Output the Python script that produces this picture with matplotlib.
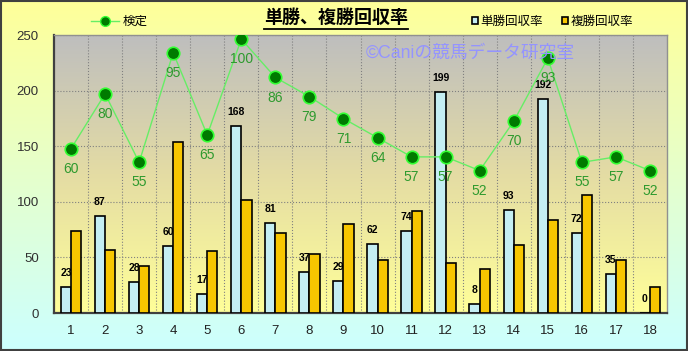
import matplotlib

matplotlib.use("Agg")

import matplotlib.pyplot as plt
import numpy as np
from matplotlib.colors import LinearSegmentedColormap
from matplotlib.lines import Line2D
from matplotlib.patches import Patch

plt.rcParams["font.family"] = ["Liberation Sans", "Noto Sans CJK JP", "DejaVu Sans"]

horses = list(range(1, 19))
tansho = [23, 87, 28, 60, 17, 168, 81, 37, 29, 62, 74, 199, 8, 93, 192, 72, 35, 0]
fukusho = [74, 57, 42, 154, 56, 102, 72, 53, 80, 48, 92, 45, 40, 61, 84, 106, 48, 23]
kentei = [60, 80, 55, 95, 65, 100, 86, 79, 71, 64, 57, 57, 52, 70, 93, 55, 57, 52]
y_ticks = [0, 50, 100, 150, 200, 250]

W, H = 688, 351
fig = plt.figure(figsize=(W / 100, H / 100), dpi=100)

# outer background gradient
bg = fig.add_axes([0, 0, 1, 1], zorder=-10)
bg_cmap = LinearSegmentedColormap.from_list("bg", ["#FFFF99", "#CCFFFF"])
bg.imshow(np.linspace(0, 1, 256).reshape(-1, 1), aspect="auto", cmap=bg_cmap,
          extent=[0, 1, 0, 1], origin="upper")
bg.set_xlim(0, 1)
bg.set_ylim(0, 1)
bg.axis("off")
fig.add_artist(plt.Rectangle((0.001, 0.002), 0.997, 0.995, transform=fig.transFigure,
                             fill=False, edgecolor="#404040", linewidth=1.5))

left, right, top, bottom = 54, 667, 35, 313
ax = fig.add_axes([left / W, 1 - bottom / H, (right - left) / W, (bottom - top) / H])

x = np.array(horses, dtype=float)
plot_cmap = LinearSegmentedColormap.from_list("pa", ["#BEBEBE", "#E4DCA4", "#FFFF99"])
ax.imshow(np.linspace(0, 1, 256).reshape(-1, 1), aspect="auto", cmap=plot_cmap,
          extent=[0.5, 18.5, 0, 250], origin="upper", zorder=0)

bw = 0.3
ax.bar(x - bw / 2, tansho, bw, color="#C4EEF3", edgecolor="black", linewidth=1.2, zorder=3)
ax.bar(x + bw / 2, fukusho, bw, color="#F7C600", edgecolor="black", linewidth=1.2, zorder=3)
for xi, v in zip(x, tansho):
    ax.annotate(str(v), (xi - bw / 2, v), xytext=(0, 6.5), textcoords="offset points",
                ha="center", va="bottom", fontsize=7.5, fontweight="bold", color="black", zorder=5)

ax.set_xlim(0.5, 18.5)
ax.set_ylim(0, 250)
ax.set_xticks(x)
ax.set_xticklabels([str(h) for h in horses], fontsize=9.5, color="#202020")
ax.set_xticks(np.arange(1.5, 18.5, 1.0), minor=True)
ax.set_yticks(y_ticks)
ax.set_yticklabels([str(t) for t in y_ticks], fontsize=9.5, color="#303030")
ax.tick_params(axis="both", which="both", length=0)
ax.tick_params(axis="x", pad=9)
ax.tick_params(axis="y", pad=11)
ax.grid(axis="y", which="major", linestyle=":", color="#808080", linewidth=0.8, zorder=1)
ax.grid(axis="x", which="minor", linestyle=":", color="#808080", linewidth=0.8, zorder=1)
ax.set_axisbelow(True)
for s in ["left", "bottom"]:
    ax.spines[s].set_color("#404040")
    ax.spines[s].set_linewidth(1.6)
for s in ["top", "right"]:
    ax.spines[s].set_color("#909090")
    ax.spines[s].set_linewidth(1.0)

ax2 = ax.twinx()
ax2.set_ylim(0, 101.5)
ax2.set_yticks([])
for s in ax2.spines.values():
    s.set_visible(False)
ax2.plot(x, kentei, color="#66EE66", linewidth=1.0, marker="o", markersize=9,
         markerfacecolor="#007A00", markeredgecolor="#33FF33", markeredgewidth=1.2, zorder=6)
for xi, v in zip(x, kentei):
    ax2.annotate(str(v), (xi, v), xytext=(0, -14.5), textcoords="offset points",
                 ha="center", va="center", fontsize=10, color="#2E9A2E", zorder=7)

# title with underline
title = fig.text(336 / W, 1 - 18 / H, "単勝、複勝回収率", ha="center", va="center",
                 fontsize=13, fontweight="bold", color="black")
fig.canvas.draw()
bb = title.get_window_extent()
fig.add_artist(Line2D([bb.x0 / W, bb.x1 / W], [1 - 28.5 / H, 1 - 28.5 / H],
                      transform=fig.transFigure, color="black", linewidth=1.3))

# watermark
fig.text(470 / W, 1 - 53 / H, "©Caniの競馬データ研究室", ha="center", va="center",
         fontsize=12.8, color="#9494FF", zorder=20)

# legends
h_line = Line2D([], [], color="#66EE66", linewidth=1.0, marker="o", markersize=7,
                markerfacecolor="#007A00", markeredgecolor="#33FF33")
leg1 = fig.legend([h_line], ["検定"], loc="center left", bbox_to_anchor=(91 / W, 1 - 22 / H),
                  frameon=False, fontsize=9, handlelength=2.2, handletextpad=0.3,
                  borderpad=0, borderaxespad=0)
h_t = Patch(facecolor="#C4EEF3", edgecolor="black", linewidth=1.2)
h_f = Patch(facecolor="#F7C600", edgecolor="black", linewidth=1.2)
leg2 = fig.legend([h_t, h_f], ["単勝回収率", "複勝回収率"], loc="center left",
                  bbox_to_anchor=(472 / W, 1 - 22 / H), ncol=2, frameon=False, fontsize=9,
                  handlelength=0.5, handleheight=0.5, handletextpad=0.2, columnspacing=1.5,
                  borderpad=0, borderaxespad=0)

fig.savefig("out.png", dpi=100)
